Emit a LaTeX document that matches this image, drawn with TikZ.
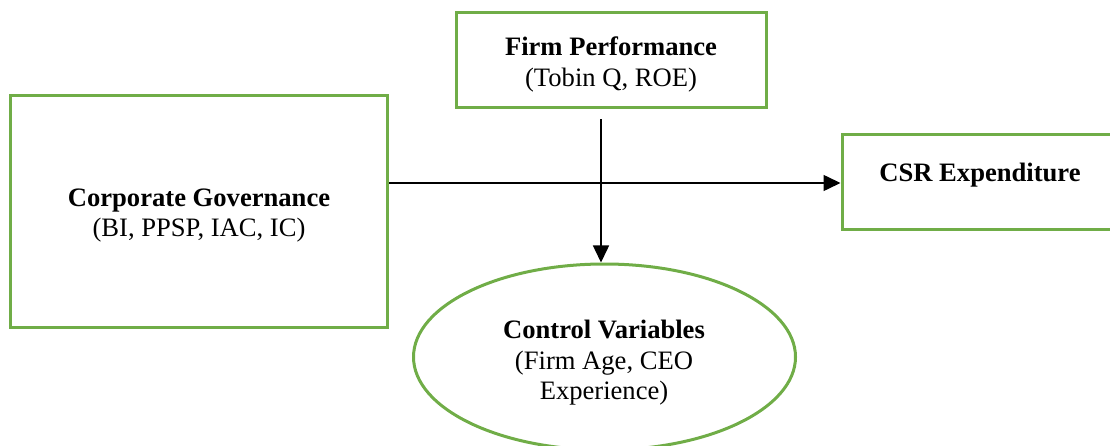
\documentclass[tikz,border=0pt]{standalone}
\usepackage{fontspec}
\setmainfont{Liberation Serif}
\usetikzlibrary{arrows.meta,shapes.geometric}
\definecolor{boxgreen}{RGB}{112,173,71}
\tikzset{
  gbox/.style={draw=boxgreen, line width=3pt, rectangle, align=center, inner sep=0pt},
  gell/.style={draw=boxgreen, line width=3pt, ellipse, align=center, inner sep=0pt},
  txt/.style={font=\fontsize{26.6}{30.5}\selectfont, align=center},
  arr/.style={draw=black, line width=1.5pt, -{Triangle[length=17pt,width=16pt]}}
}
\begin{document}
\begin{tikzpicture}[x=1pt,y=-1pt]
\useasboundingbox (0,0) rectangle (1110,446);
\begin{scope}
\clip (0,0) rectangle (1110,446);
\node[gbox, minimum width=310pt, minimum height=95pt] (FP) at (611,60.5) {};
\node[txt] (FPt) at (611,64.5) {\textbf{Firm Performance}\\(Tobin Q, ROE)};
\node[gbox, minimum width=377pt, minimum height=232pt] (CG) at (199,211.5) {};
\node[txt] (CGt) at (199,215.5) {\textbf{Corporate Governance}\\(BI, PPSP, IAC, IC)};
\node[gbox, minimum width=270pt, minimum height=95pt] (CSR) at (977,182) {};
\node[txt] (CSRt) at (980,175) {\textbf{CSR Expenditure}};
\node[gell, minimum width=382pt, minimum height=186pt] (CV) at (604.5,357) {};
\node[txt] (CVt) at (604,363) {\textbf{Control Variables}\\(Firm Age, CEO\\Experience)};
\draw[arr] (CG.east |- 0,183) -- (CSR.west |- 0,183);
\draw[arr] ([xshift=-10pt,yshift=-10pt]FP.south) -- ([xshift=-3.5pt]CV.north);
\end{scope}
\end{tikzpicture}
\end{document}
